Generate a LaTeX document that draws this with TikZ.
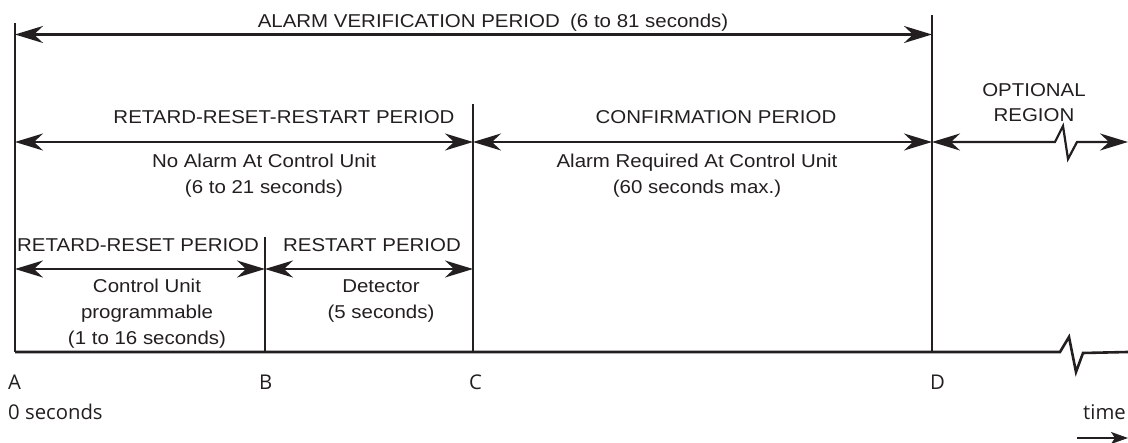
\documentclass[tikz,border=0pt]{standalone}
\usepackage{fontspec}
\setmainfont{Liberation Sans}[FakeStretch=1.1]
\newfontfamily\axisfont{Open Sans}
\usetikzlibrary{arrows.meta}
\definecolor{ink}{HTML}{231F20}
\begin{document}
\begin{tikzpicture}[x=1pt,y=-1pt, color=ink,
  lbl/.style={font=\fontsize{18.6}{22}\selectfont, inner sep=0pt, anchor=base, text=ink},
  lbll/.style={lbl, anchor=base west},
  axl/.style={font=\axisfont\fontsize{20.3}{22}\selectfont, inner sep=0pt, anchor=base west, text=ink},
  vline/.style={line width=2pt},
  tip/.tip={Stealth[length=28pt,width=17pt,inset=9pt]},
  span/.style={line width=2.2pt, tip-tip},
]
\useasboundingbox (0,0) rectangle (1128,443);
% time points
\coordinate (A0) at (15,352);  \coordinate (Atop) at (15,23);
\coordinate (B0) at (265,352); \coordinate (Btop) at (265,237);
\coordinate (C0) at (473,352); \coordinate (Ctop) at (473,104);
\coordinate (D0) at (932,352); \coordinate (Dtop) at (932,15);
\coordinate (E0) at (1128,352);
% arrow rows
\coordinate (A1) at (15,34.5); \coordinate (D1) at (932,34.5);
\coordinate (A2) at (15,142);  \coordinate (C2) at (473,142);
\coordinate (D2) at (932,142); \coordinate (E2) at (1128,142);
\coordinate (A3) at (15,269);  \coordinate (B3) at (265,269);
\coordinate (C3) at (473,269);
\coordinate (T1) at (1077,438); \coordinate (T2) at (1128,438);

% vertical lines
\draw[vline] (Atop) -- (A0);
\draw[vline] (Btop) -- (B0);
\draw[vline] (Ctop) -- (C0);
\draw[vline] (Dtop) -- (D0);
% time axis with break
\draw[line width=2.6pt, line join=miter] (A0) -- (1060,352) -- (1069,337) -- (1076,372) -- (1083,353) -- (E0);

% spans
\draw[span] (A1) -- (D1);
\draw[span] (A2) -- (C2);
\draw[span] (C2) -- (D2);
\draw[span, line join=miter] (D2) -- (1055,142) -- (1063,126) -- (1068,159) -- (1077,142) -- (E2);
\draw[span] (A3) -- (B3);
\draw[span] (B3) -- (C3);
\draw[line width=2pt, -{Stealth[length=17pt,width=12pt,inset=4pt]}] (T1) -- (T2);

% labels
\node[lbl] (title) at (493,28) {ALARM VERIFICATION PERIOD\hspace{0.25em} (6 to 81 seconds)};
\node[lbl] (rrr) at (284,124) {RETARD-RESET-RESTART PERIOD};
\node[lbl] (conf) at (716,124) {CONFIRMATION PERIOD};
\node[lbl] (opt1) at (1034,97) {OPTIONAL};
\node[lbl] (opt2) at (1034,122) {REGION};
\node[lbl] (noal) at (264,168) {No Alarm At Control Unit};
\node[lbl] (noal2) at (264,194) {(6 to 21 seconds)};
\node[lbl] (areq) at (697,168) {Alarm Required At Control Unit};
\node[lbl] (areq2) at (697,194) {(60 seconds max.)};
\node[lbll] (rr) at (17,252) {RETARD-RESET PERIOD};
\node[lbl] (rs) at (372,252) {RESTART PERIOD};
\node[lbl] (cu1) at (147,293) {Control Unit};
\node[lbl] (cu2) at (147,319) {programmable};
\node[lbl] (cu3) at (147,345) {(1 to 16 seconds)};
\node[lbl] (det1) at (381,293) {Detector};
\node[lbl] (det2) at (381,319) {(5 seconds)};

\node[axl] (la) at (8,390) {A};
\node[axl] (lb) at (259,390) {B};
\node[axl] (lc) at (469,390) {C};
\node[axl] (ld) at (930,390) {D};
\node[axl] (l0) at (8,420) {0 seconds};
\node[axl] (lt) at (1083,420) {time};
\end{tikzpicture}
\end{document}
